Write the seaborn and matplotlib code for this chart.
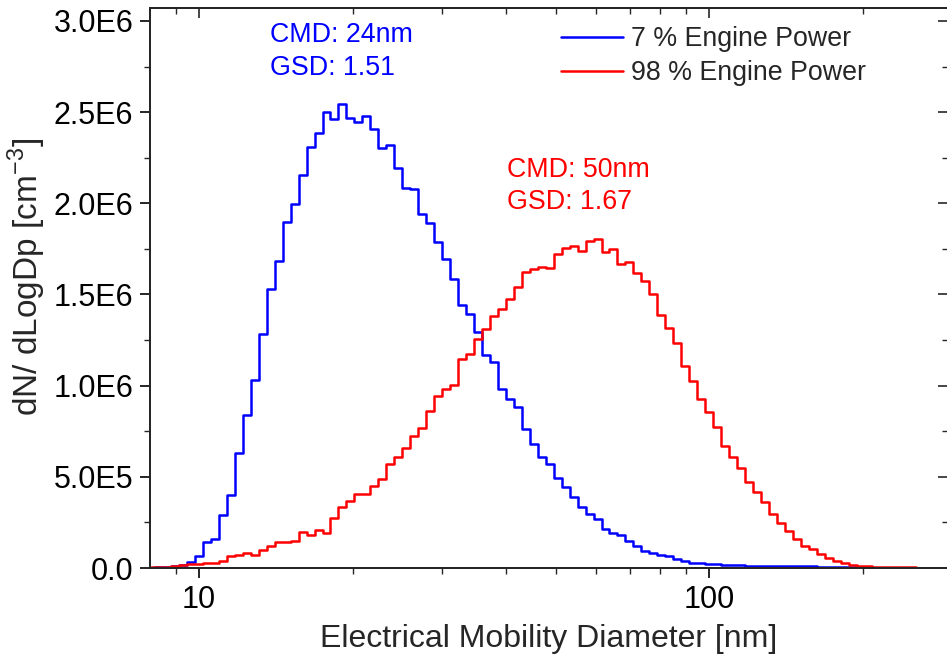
import numpy as np
import pandas as pd
import matplotlib
matplotlib.use("Agg")
import matplotlib.pyplot as plt
import matplotlib.ticker as mticker
import seaborn as sns

# Channel midpoint diameters [nm] (64 channels / decade)
diameter = [8.06, 8.35, 8.66, 8.98, 9.31, 9.65,
            10.0, 10.37, 10.75, 11.14, 11.55, 11.97, 12.41, 12.86, 13.34, 13.82,
            14.33, 14.86, 15.40, 15.96, 16.55, 17.15, 17.78, 18.43, 19.11, 19.81,
            20.54, 21.29, 22.07, 22.88, 23.71, 24.58, 25.48, 26.42, 27.38, 28.39,
            29.43, 30.51, 31.62, 32.78, 33.98, 35.23, 36.52, 37.86, 39.24, 40.68,
            42.17, 43.71, 45.32, 46.98, 48.70, 50.48, 52.33, 54.25, 56.23, 58.29,
            60.43, 62.65, 64.94, 67.32, 69.78, 72.34, 74.99, 77.74, 80.59, 83.54,
            86.60, 89.77, 93.06, 96.47, 100.0, 103.7, 107.5, 111.4, 115.5, 119.7,
            124.1, 128.6, 133.4, 138.2, 143.3, 148.6, 154.0, 159.6, 165.5, 171.5,
            177.8, 184.3, 191.1, 198.1, 205.4, 212.9, 220.7, 228.8, 237.1, 245.8,
            254.8]

# dN/dLogDp [cm^-3], 7 % engine power
low_power = [2e3, 3e3, 5e3, 10e3, 18e3, 33e3,
             66e3, 143e3, 159e3, 291e3, 400e3, 631e3, 839e3, 1031e3, 1283e3, 1530e3,
             1684e3, 1898e3, 1996e3, 2155e3, 2309e3, 2386e3, 2501e3, 2462e3, 2545e3, 2468e3,
             2446e3, 2479e3, 2407e3, 2303e3, 2320e3, 2193e3, 2084e3, 2078e3, 1941e3, 1892e3,
             1788e3, 1694e3, 1585e3, 1442e3, 1393e3, 1294e3, 1168e3, 1130e3, 982e3, 927e3,
             883e3, 762e3, 680e3, 609e3, 570e3, 494e3, 444e3, 389e3, 335e3, 296e3,
             266e3, 214e3, 192e3, 181e3, 148e3, 121e3, 93e3, 82e3, 72e3, 68e3,
             49e3, 38e3, 28e3, 26e3, 22e3, 20e3, 16e3, 15e3, 14e3, 13e3,
             12e3, 11e3, 11e3, 10e3, 10e3, 9e3, 9e3, 9e3, 8e3, 8e3,
             8e3, 8e3, 7e3, 7e3, 4e3, 2e3, 1e3, 0.5e3, 0.5e3, 0.5e3,
             0.5e3]

# dN/dLogDp [cm^-3], 98 % engine power
high_power = [4e3, 5e3, 7e3, 12e3, 15e3, 20e3,
              24e3, 27e3, 30e3, 38e3, 66e3, 71e3, 82e3, 71e3, 99e3, 121e3,
              140e3, 145e3, 150e3, 197e3, 181e3, 211e3, 192e3, 274e3, 335e3, 370e3,
              406e3, 408e3, 452e3, 488e3, 570e3, 609e3, 658e3, 724e3, 768e3, 861e3,
              943e3, 984e3, 1004e3, 1146e3, 1174e3, 1256e3, 1311e3, 1382e3, 1420e3, 1475e3,
              1541e3, 1623e3, 1640e3, 1651e3, 1645e3, 1722e3, 1755e3, 1766e3, 1738e3, 1793e3,
              1804e3, 1733e3, 1749e3, 1667e3, 1678e3, 1618e3, 1574e3, 1503e3, 1387e3, 1316e3,
              1234e3, 1108e3, 1026e3, 927e3, 855e3, 773e3, 669e3, 609e3, 548e3, 472e3,
              417e3, 362e3, 296e3, 247e3, 203e3, 159e3, 121e3, 104e3, 77e3, 55e3,
              38e3, 27e3, 16e3, 11e3, 9e3, 8e3, 7e3, 6e3, 6e3, 5e3,
              5e3]

series_labels = ["7 % Engine Power", "98 % Engine Power"]
series_colors = ["#0000FF", "#FF0000"]
annot_low = ["CMD: 24nm", "GSD: 1.51"]
annot_high = ["CMD: 50nm", "GSD: 1.67"]
x_major_ticks = [10, 100]
y_major_ticks = [0, 0.5e6, 1.0e6, 1.5e6, 2.0e6, 2.5e6, 3.0e6]

df = pd.DataFrame({
    "d": diameter + diameter,
    "v": low_power + high_power,
    "series": [series_labels[0]] * len(diameter) + [series_labels[1]] * len(diameter),
})

sns.set_theme(style="ticks")
plt.rcParams["font.family"] = ["Liberation Sans", "DejaVu Sans"]
plt.rcParams["axes.linewidth"] = 1.2

W, H = 947, 656
fig = plt.figure(figsize=(W / 100, H / 100), dpi=100)
L, R, T, B = 150, 948, 8, 568
ax = fig.add_axes([L / W, (H - B) / H, (R - L) / W, (B - T) / H])

sns.lineplot(data=df, x="d", y="v", hue="series",
             palette=dict(zip(series_labels, series_colors)),
             drawstyle="steps-mid", linewidth=1.8, estimator=None,
             ax=ax)

ax.set_xscale("log")
xlim = (8.015, 294.1)
ylim = (0, 3.071e6)
ax.set_xlim(*xlim)
ax.set_ylim(*ylim)

ax.xaxis.set_major_locator(mticker.FixedLocator(x_major_ticks))
ax.xaxis.set_major_formatter(mticker.FixedFormatter([str(t) for t in x_major_ticks]))
ax.xaxis.set_minor_locator(mticker.LogLocator(base=10, subs=np.arange(2, 10)))
ax.xaxis.set_minor_formatter(mticker.NullFormatter())


def yfmt(v, pos):
    if v == 0:
        return "0.0"
    e = int(np.floor(np.log10(abs(v)) + 1e-9))
    m = v / 10 ** e
    return f"{m:.1f}E{e}"


ax.yaxis.set_major_locator(mticker.FixedLocator(y_major_ticks))
ax.yaxis.set_major_formatter(mticker.FuncFormatter(yfmt))
ax.yaxis.set_minor_locator(mticker.MultipleLocator(0.25e6))

ax.tick_params(which="major", direction="out", length=7, width=1.2,
               labelsize=22, colors="black", pad=5)
ax.tick_params(which="minor", direction="out", length=4, width=1.0)

ax_w, ax_h = R - L, B - T
ax.set_xlabel("Electrical Mobility Diameter [nm]", fontsize=23, labelpad=7)
ax.set_ylabel(r"dN/ dLogDp [cm$^{\mathregular{-3}}$]", fontsize=24)
ax.yaxis.set_label_coords((48 - L) / ax_w, (B - 277) / ax_h)

for s in ax.spines.values():
    s.set_color("black")
    s.set_linewidth(1.2)

# mirrored inward ticks on top and right
axt = ax.twiny()
axt.set_xscale("log")
axt.set_xlim(*xlim)
axt.xaxis.set_major_locator(mticker.FixedLocator(x_major_ticks))
axt.xaxis.set_minor_locator(mticker.LogLocator(base=10, subs=np.arange(2, 10)))
axt.xaxis.set_major_formatter(mticker.NullFormatter())
axt.xaxis.set_minor_formatter(mticker.NullFormatter())
axt.tick_params(which="major", direction="in", length=7, width=1.2, labeltop=False)
axt.tick_params(which="minor", direction="in", length=4, width=1.0)

axr = ax.twinx()
axr.set_ylim(*ylim)
axr.yaxis.set_major_locator(mticker.FixedLocator(y_major_ticks))
axr.yaxis.set_minor_locator(mticker.MultipleLocator(0.25e6))
axr.yaxis.set_major_formatter(mticker.NullFormatter())
axr.tick_params(which="major", direction="in", length=7, width=1.2, labelright=False)
axr.tick_params(which="minor", direction="in", length=4, width=1.0)

# legend
sns.move_legend(ax, "upper left",
                bbox_to_anchor=((561 - L) / ax_w, (B - 26) / ax_h),
                title=None, frameon=False, fontsize=19.3,
                handlelength=2.3, handletextpad=0.33, labelspacing=0.3,
                borderpad=0, borderaxespad=0)

# annotations
ax.text((270 - L) / ax_w, (B - 35) / ax_h, annot_low[0], color=series_colors[0],
        fontsize=19.3, transform=ax.transAxes, va="center", ha="left")
ax.text((270 - L) / ax_w, (B - 68) / ax_h, annot_low[1], color=series_colors[0],
        fontsize=19.3, transform=ax.transAxes, va="center", ha="left")
ax.text((507 - L) / ax_w, (B - 170) / ax_h, annot_high[0], color=series_colors[1],
        fontsize=19.3, transform=ax.transAxes, va="center", ha="left")
ax.text((507 - L) / ax_w, (B - 202) / ax_h, annot_high[1], color=series_colors[1],
        fontsize=19.3, transform=ax.transAxes, va="center", ha="left")

fig.savefig("out.png", dpi=100)
